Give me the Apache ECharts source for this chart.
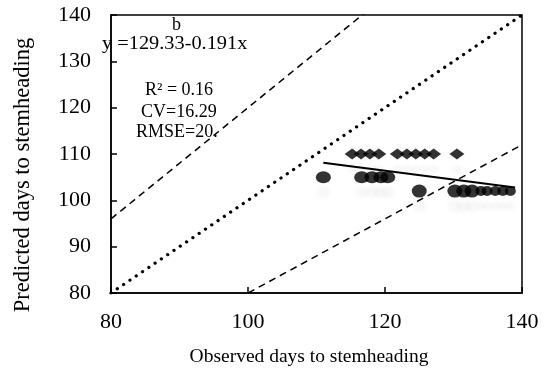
<!DOCTYPE html>
<html><head><meta charset="utf-8">
<script src="https://cdn.jsdelivr.net/npm/echarts@6/dist/echarts.min.js"></script>
<style>html,body{margin:0;padding:0;background:#fff}#c{width:551px;height:369px}</style>
</head><body><div id="c"></div>
<script>
var xTicks = [80, 100, 120, 140];
var yTicks = [80, 90, 100, 110, 120, 130, 140];
var xTitle = 'Observed days to stemheading';
var yTitle = 'Predicted days to stemheading';
// observed days (x) for predicted = 110
var obs110 = [115.2, 116.5, 117.8, 119.1, 121.8, 123.2, 124.5, 125.8, 127.1, 130.5];
var pred110 = 110;
// observed days for predicted = 105
var obs105 = [111, 116.6, 118.1, 119.4, 120.4];
var pred105 = 105;
// observed days for predicted = 102
var obs102 = [125, 130.2, 131.5, 132.7];
var obs102small = [134, 134.9, 136.1, 137.2, 138.3];
var pred102 = 102;
var regA = 129.33, regB = -0.191, regX = [111, 139];
var oneToOne = [80, 140];
var upperFactor = 1.2, lowerFactor = 0.8;

function pts(xs, y) { return xs.map(function (x) { return [x, y]; }); }
var font = 'Liberation Serif';
var chart = echarts.init(document.getElementById('c'));
var ghost = { shadowColor: 'rgba(0,0,0,0.035)', shadowOffsetY: 15, shadowBlur: 3 };
var annFont = '18px "Liberation Serif"';
function ann(text, x, y, sx) {
  return { type: 'text', x: x, y: y, scaleX: sx || 1,
    style: { text: text, font: annFont, fill: '#000', textAlign: 'left', textVerticalAlign: 'middle' } };
}
chart.setOption({
  animation: false,
  grid: { left: 111, right: 29, top: 15, bottom: 76, show: true, borderColor: '#000', borderWidth: 1.5,
          containLabel: false, outerBoundsMode: 'none' },
  xAxis: {
    type: 'value', min: 80, max: 140, interval: 20,
    axisLine: { lineStyle: { color: '#000', width: 1.5 } },
    axisTick: { inside: true, length: 6, lineStyle: { color: '#000', width: 1.5 } },
    axisLabel: { color: '#000', fontFamily: font, fontSize: 22, margin: 18 },
    splitLine: { show: false }
  },
  yAxis: {
    type: 'value', min: 80, max: 140, interval: 10,
    axisLine: { lineStyle: { color: '#000', width: 1.5 } },
    axisTick: { inside: true, length: 6, lineStyle: { color: '#000', width: 1.5 } },
    axisLabel: { color: '#000', fontFamily: font, fontSize: 22, margin: 20 },
    splitLine: { show: false }
  },
  graphic: [
    ann('b', 172, 25),
    ann('y =129.33-0.191x', 102, 44, 1.13),
    ann('R² = 0.16', 145, 90),
    ann('CV=16.29', 141, 112),
    ann('RMSE=20.', 136, 132),
    { type: 'text', x: 309, y: 357,
      style: { text: xTitle, font: '19.5px "Liberation Serif"', fill: '#000', textAlign: 'center', textVerticalAlign: 'middle' } },
    { type: 'text', x: 23, y: 175, rotation: Math.PI / 2,
      style: { text: yTitle, font: '22.5px "Liberation Serif"', fill: '#000', textAlign: 'center', textVerticalAlign: 'middle' } }
  ],
  series: [
    { type: 'line', data: oneToOne.map(function (v) { return [v, v]; }), symbol: 'none',
      lineStyle: { color: '#000', width: 3.2, type: [0.1, 7.5], cap: 'round' } },
    { type: 'line', data: oneToOne.map(function (v) { return [v, v * upperFactor]; }), symbol: 'none',
      lineStyle: { color: '#000', width: 1.5, type: [7, 5] } },
    { type: 'line', data: oneToOne.map(function (v) { return [v, v * lowerFactor]; }), symbol: 'none',
      lineStyle: { color: '#000', width: 1.5, type: [7, 5] } },
    { type: 'scatter', data: pts(obs110, pred110), symbol: 'diamond', symbolSize: [15, 11],
      itemStyle: Object.assign({ color: '#000' }, ghost) },
    { type: 'scatter', data: pts(obs105, pred105), symbol: 'circle', symbolSize: [15, 12],
      itemStyle: Object.assign({ color: '#000' }, ghost) },
    { type: 'scatter', data: pts(obs102, pred102), symbol: 'circle', symbolSize: [15, 13],
      itemStyle: Object.assign({ color: '#000' }, ghost) },
    { type: 'scatter', data: pts(obs102small, pred102), symbol: 'circle', symbolSize: [11, 10],
      itemStyle: Object.assign({ color: '#000' }, ghost) },
    { type: 'line', data: regX.map(function (x) { return [x, regA + regB * x]; }), symbol: 'none',
      lineStyle: { color: '#000', width: 2 } }
  ]
});
</script></body></html>
